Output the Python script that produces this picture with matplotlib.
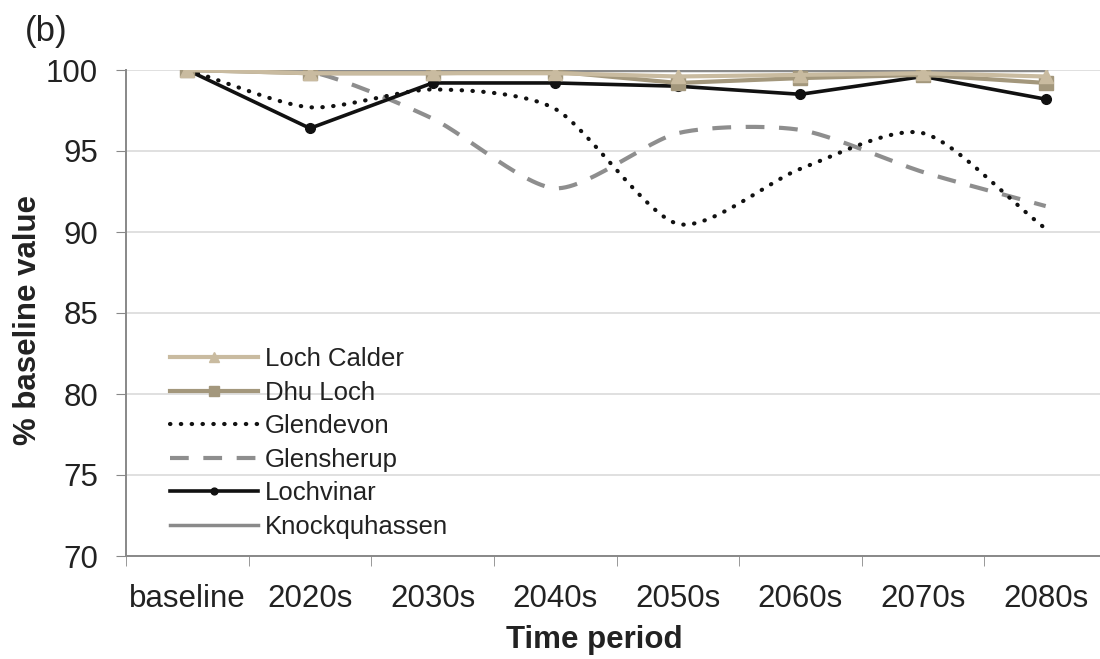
import matplotlib.pyplot as plt
import numpy as np

plt.rcParams['font.family'] = ['Liberation Sans', 'DejaVu Sans']

periods = ["baseline", "2020s", "2030s", "2040s", "2050s", "2060s", "2070s", "2080s"]

loch_calder = [100, 99.8, 99.8, 99.8, 99.6, 99.7, 99.8, 99.6]
dhu_loch = [100, 99.8, 99.8, 99.9, 99.2, 99.5, 99.7, 99.2]
glendevon = [100, 97.7, 98.8, 97.6, 90.5, 93.9, 96.1, 90.2]
glensherup = [100, 99.9, 97.0, 92.7, 96.1, 96.3, 93.7, 91.6]
lochvinar = [100, 96.4, 99.2, 99.2, 99.0, 98.5, 99.6, 98.2]
knockquhassen = [100, 100, 100, 100, 100, 100, 100, 100]

DOTS = (0, (0.1, 2.5))
DASHES = (0, (4.5, 3.5))


def smooth(x, y, n=30, s=0.75):
    # cardinal spline through the points ("smoothed line")
    x = np.asarray(x, float)
    y = np.asarray(y, float)
    t = np.linspace(0, 1, n)
    h00 = 2 * t**3 - 3 * t**2 + 1
    h10 = t**3 - 2 * t**2 + t
    h01 = -2 * t**3 + 3 * t**2
    h11 = t**3 - t**2
    mx = np.gradient(x) * s
    my = np.gradient(y) * s
    mx[0], mx[-1] = x[1] - x[0], x[-1] - x[-2]
    my[0], my[-1] = y[1] - y[0], y[-1] - y[-2]
    xs, ys = [], []
    for i in range(len(x) - 1):
        xs.extend(h00 * x[i] + h10 * mx[i] + h01 * x[i + 1] + h11 * mx[i + 1])
        ys.extend(h00 * y[i] + h10 * my[i] + h01 * y[i + 1] + h11 * my[i + 1])
    return xs, ys


x = np.arange(len(periods))

fig = plt.figure(figsize=(11, 6.59), dpi=100)
ax = fig.add_axes([126 / 1100, 1 - 556 / 659, 981 / 1100, 486 / 659])

ax.plot(x, knockquhassen, color="#8a8a8a", lw=2.5, label="Knockquhassen", zorder=2)
sx, sy = smooth(x, glensherup)
ax.plot(sx, sy, color="#8e8e8e", lw=3, ls=DASHES, zorder=3)
sx, sy = smooth(x, glendevon)
ax.plot(sx, sy, color="#111111", lw=3, ls=DOTS, dash_capstyle="round", zorder=3)
ax.plot(x, lochvinar, color="#111111", lw=2.6, marker="o", ms=7, label="Lochvinar", zorder=4)
ax.plot(x, dhu_loch, color="#a3977c", lw=3, marker="s", ms=10, label="Dhu Loch", zorder=5)
ax.plot(x, loch_calder, color="#c9bba0", lw=3, marker="^", ms=10, label="Loch Calder", zorder=5)

# legend handles for the smoothed series
ax.plot([], [], color="#111111", lw=3, ls=DOTS, dash_capstyle="round", label="Glendevon")
ax.plot([], [], color="#8e8e8e", lw=3, ls=DASHES, label="Glensherup")

handles, labels = ax.get_legend_handles_labels()
order = ["Loch Calder", "Dhu Loch", "Glendevon", "Glensherup", "Lochvinar", "Knockquhassen"]
hmap = dict(zip(labels, handles))
ax.legend([hmap[k] for k in order], order, loc="upper left", bbox_to_anchor=(0.045, 0.43),
          frameon=False, fontsize=18.5, handlelength=3.4, labelspacing=0.37,
          handletextpad=0.3, borderpad=0, borderaxespad=0, markerscale=0.7,
          labelcolor="#222222")

ax.set_xlim(-0.5, len(periods) - 0.5)
ax.set_ylim(70, 100)
ax.set_yticks(np.arange(70, 101, 5))
ax.set_xticks(x)
ax.set_xticklabels(periods)
ax.set_xticks(np.arange(-0.5, len(periods), 1), minor=True)
ax.tick_params(axis="x", which="major", length=0, labelsize=22.5, pad=20, colors="#222222")
ax.tick_params(axis="x", which="minor", length=7, color="#888888", direction="out")
ax.tick_params(axis="y", length=7, color="#888888", labelsize=22.5, pad=13, labelcolor="#222222")

ax.grid(axis="y", color="#dddddd", lw=1.3, zorder=0)
ax.set_axisbelow(True)
for s in ["top", "right"]:
    ax.spines[s].set_visible(False)
for s in ["left", "bottom"]:
    ax.spines[s].set_color("#888888")
    ax.spines[s].set_linewidth(1.4)

ax.set_ylabel("% baseline value", fontsize=22.5, fontweight="bold", color="#222222",
              va="center")
ax.yaxis.set_label_coords(-0.1, 0.485)
ax.set_xlabel("Time period", fontsize=22.5, fontweight="bold", color="#222222", va="center")
ax.xaxis.set_label_coords(0.477, -0.173)
fig.text(25 / 1100, 1 - 32 / 659, "(b)", fontsize=25, color="#222222", va="center")

fig.savefig("out.png", dpi=100)
